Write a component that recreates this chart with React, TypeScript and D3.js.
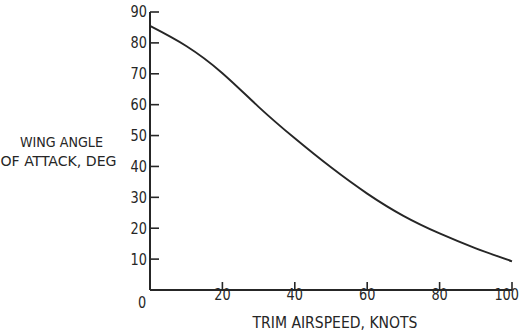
import React from "react";
import * as d3 from "d3";

const airspeed = [0, 10, 20, 30, 40, 50, 60, 70, 80, 90, 100];
const angle = [85.5, 79, 70.2, 59.3, 49.1, 39.7, 31.2, 24.0, 18.3, 13.5, 9.3];
const yTicks = [10, 20, 30, 40, 50, 60, 70, 80, 90];
const xTicks = [20, 40, 60, 80, 100];
const xTitle = "TRIM AIRSPEED, KNOTS";
const yTitle = ["WING ANGLE", "OF ATTACK, DEG"];

const W = 521;
const H = 334;
const FONT = "'DejaVu Sans Condensed', 'Liberation Sans Narrow', 'DejaVu Sans', sans-serif";
const INK = "#262626";

export default function App() {
  const x = d3.scaleLinear().domain([0, 100]).range([150, 512]);
  const y = d3.scaleLinear().domain([0, 90]).range([290, 12]);
  const pts = airspeed.map((a, i) => [a, angle[i]] as [number, number]);
  const line = d3
    .line<[number, number]>()
    .x((d) => x(d[0]))
    .y((d) => y(d[1]))
    .curve(d3.curveNatural);
  const digitW = (s: string) => s.length * 8.2;

  return (
    <svg
      width={W}
      height={H}
      style={{ position: "absolute", left: 0, top: 0, background: "#fff" }}
      fontFamily={FONT}
    >
      <rect width={W} height={H} fill="#fff" />
      {/* axes */}
      <line x1={x(0)} x2={x(0)} y1={y(0)} y2={y(90)} stroke={INK} strokeWidth={2} />
      <line x1={x(0)} x2={x(100)} y1={y(0)} y2={y(0)} stroke={INK} strokeWidth={2} />
      {yTicks.map((t) => (
        <g key={"y" + t}>
          <line x1={x(0)} x2={x(0) + 9} y1={y(t)} y2={y(t)} stroke={INK} strokeWidth={1.6} />
          <text
            x={x(0) - 3}
            y={y(t)}
            dy="0.36em"
            textAnchor="end"
            fontSize={15}
            fill={INK}
            textLength={digitW(String(t))}
            lengthAdjust="spacingAndGlyphs"
          >
            {t}
          </text>
        </g>
      ))}
      {xTicks.map((t) => (
        <g key={"x" + t}>
          <line x1={x(t)} x2={x(t)} y1={y(0)} y2={y(0) - 8} stroke={INK} strokeWidth={1.6} />
          <text
            x={t === 100 ? 519 : x(t)}
            y={300}
            textAnchor={t === 100 ? "end" : "middle"}
            fontSize={15}
            fill={INK}
            textLength={digitW(String(t))}
            lengthAdjust="spacingAndGlyphs"
          >
            {t}
          </text>
        </g>
      ))}
      <text x={x(0) - 8} y={308} textAnchor="middle" fontSize={15} fill={INK} textLength={8.2} lengthAdjust="spacingAndGlyphs">
        0
      </text>
      {/* curve */}
      <path d={line(pts) ?? ""} fill="none" stroke={INK} strokeWidth={1.9} />
      {/* titles */}
      <text x={335} y={328} textAnchor="middle" fontSize={15} fill={INK} textLength={165} lengthAdjust="spacingAndGlyphs">
        {xTitle}
      </text>
      <text x={61.5} y={147} textAnchor="middle" fontSize={14.5} fill={INK} textLength={83} lengthAdjust="spacingAndGlyphs">
        {yTitle[0]}
      </text>
      <text x={58.5} y={166} textAnchor="middle" fontSize={14.5} fill={INK} textLength={116} lengthAdjust="spacingAndGlyphs">
        {yTitle[1]}
      </text>
    </svg>
  );
}
